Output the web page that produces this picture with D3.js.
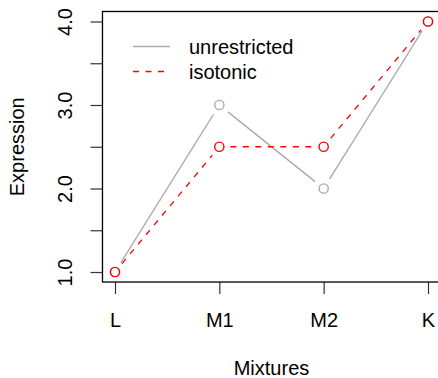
<!DOCTYPE html>
<html>
<head>
<meta charset="utf-8">
<script src="https://cdn.jsdelivr.net/npm/d3@7"></script>
<style>
  body { margin: 0; background: #fff; }
  svg { display: block; font-family: "Liberation Sans", Arial, Helvetica, sans-serif; }
</style>
</head>
<body>
<svg width="438" height="378"></svg>
<script>
const mixtures = ["L", "M1", "M2", "K"];
const unrestricted = [1, 3, 2, 4];
const isotonic = [1, 2.5, 2.5, 4];
const yTicks = [1, 1.5, 2, 2.5, 3, 3.5, 4];
const legendItems = ["unrestricted", "isotonic"];

const GRAY = "#aaaaaa";
const RED = "#ff0000";
const DASH = "6,6.5";

const svg = d3.select("svg");

// R-like plot region: data range padded by 4%
const xScale = d3.scalePoint().domain(mixtures).range([115, 428]);
const yScale = d3.scaleLinear().domain([1, 4]).range([272, 21.5]);

const xPad = 0.04 * (xScale(mixtures[3]) - xScale(mixtures[0]));
const yPad = 0.04 * (yScale(1) - yScale(4));
const box = {
  left: xScale(mixtures[0]) - xPad,
  right: xScale(mixtures[3]) + xPad,
  top: yScale(4) - yPad,
  bottom: yScale(1) + yPad
};

// axes
const yAxis = d3.axisLeft(yScale)
  .tickValues(yTicks)
  .tickSize(12)
  .tickSizeOuter(0)
  .tickFormat(d => (d % 1 === 0 ? d3.format(".1f")(d) : ""));
const gy = svg.append("g")
  .attr("transform", `translate(${box.left},0)`)
  .call(yAxis);
gy.select(".domain").remove();
gy.selectAll(".tick line").attr("stroke", "#333").attr("stroke-width", 1.2);
gy.selectAll(".tick text")
  .attr("x", 0).attr("dy", 0)
  .attr("text-anchor", "middle")
  .attr("transform", `translate(${72 - box.left},0) rotate(-90)`)
  .attr("font-size", 20)
  .attr("font-family", null)
  .attr("fill", "#000");

const xAxis = d3.axisBottom(xScale).tickSize(12).tickSizeOuter(0);
const gx = svg.append("g")
  .attr("transform", `translate(0,${box.bottom})`)
  .call(xAxis);
gx.select(".domain").remove();
gx.selectAll(".tick line").attr("stroke", "#333").attr("stroke-width", 1.2);
gx.selectAll(".tick text")
  .attr("y", 327 - box.bottom).attr("dy", 0)
  .attr("font-size", 20)
  .attr("font-family", null)
  .attr("fill", "#000");

// box
svg.append("rect")
  .attr("x", box.left).attr("y", box.top)
  .attr("width", box.right - box.left)
  .attr("height", box.bottom - box.top)
  .attr("fill", "none")
  .attr("stroke", "#000")
  .attr("stroke-width", 1.3);

// axis titles
svg.append("text")
  .attr("x", (box.left + box.right) / 2 > 272 ? 272 : (box.left + box.right) / 2)
  .attr("y", 375)
  .attr("text-anchor", "middle")
  .attr("font-size", 20)
  .text("Mixtures");
svg.append("text")
  .attr("transform", `translate(24,${(box.top + box.bottom) / 2}) rotate(-90)`)
  .attr("text-anchor", "middle")
  .attr("font-size", 20)
  .text("Expression");

// type = "b": lines with gaps around the points
function addSeries(values, color, dash) {
  const pts = values.map((v, i) => [xScale(mixtures[i]), yScale(v)]);
  const gap = 11;
  const g = svg.append("g");
  for (let i = 0; i < pts.length - 1; i++) {
    const [x0, y0] = pts[i];
    const [x1, y1] = pts[i + 1];
    const len = Math.hypot(x1 - x0, y1 - y0);
    const ux = (x1 - x0) / len, uy = (y1 - y0) / len;
    g.append("line")
      .attr("x1", x0 + ux * gap).attr("y1", y0 + uy * gap)
      .attr("x2", x1 - ux * gap).attr("y2", y1 - uy * gap)
      .attr("stroke", color)
      .attr("stroke-width", 1.3)
      .attr("stroke-dasharray", dash);
  }
  g.selectAll("circle")
    .data(pts)
    .enter()
    .append("circle")
    .attr("cx", d => d[0])
    .attr("cy", d => d[1])
    .attr("r", 4.6)
    .attr("fill", "none")
    .attr("stroke", color)
    .attr("stroke-width", 1.4);
}

addSeries(unrestricted, GRAY, null);
addSeries(isotonic, RED, DASH);

// legend
const legend = svg.append("g");
legendItems.forEach((name, i) => {
  const y = 46.5 + i * 25;
  legend.append("line")
    .attr("x1", 133).attr("x2", 170)
    .attr("y1", y).attr("y2", y)
    .attr("stroke", i === 0 ? GRAY : RED)
    .attr("stroke-width", 1.3)
    .attr("stroke-dasharray", i === 0 ? null : DASH);
  legend.append("text")
    .attr("x", 189).attr("y", y)
    .attr("dy", "0.36em")
    .attr("font-size", 20)
    .text(name);
});
</script>
</body>
</html>
